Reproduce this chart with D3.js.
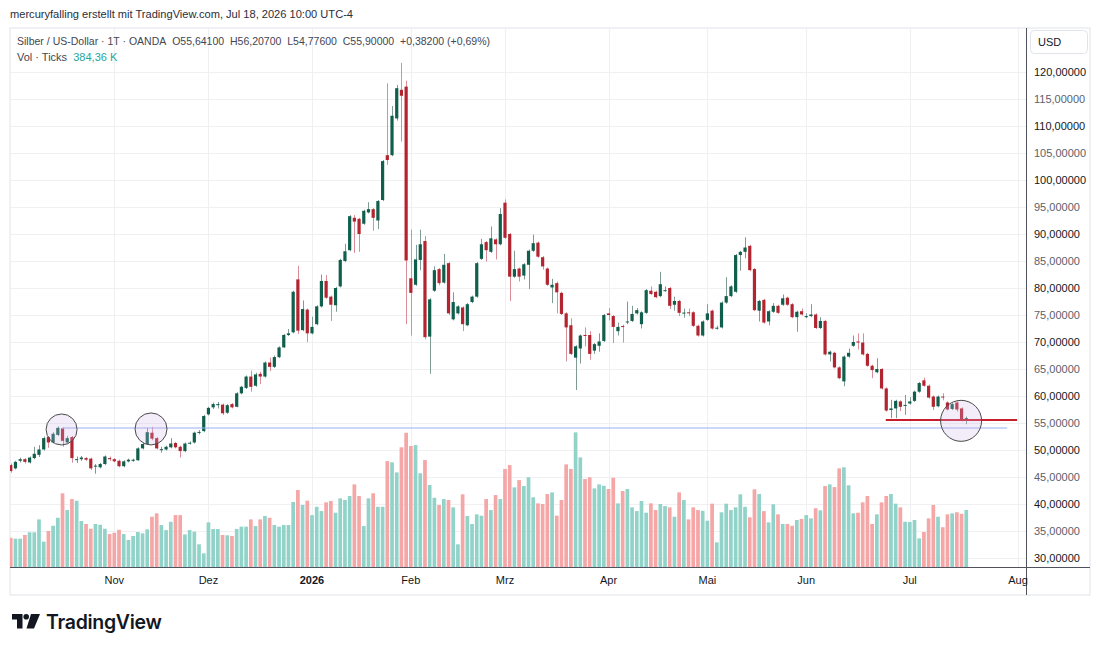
<!DOCTYPE html>
<html><head><meta charset="utf-8">
<script src="https://cdn.jsdelivr.net/npm/d3@7"></script>
<style>body{margin:0;background:#fff;} svg{display:block;font-family:"Liberation Sans",Arial,sans-serif;}</style>
</head><body><svg id="c" width="1100" height="651"></svg>
<script>
// ---- Data (daily bars, index 0 = early Oct 2025, last = Jul 17 2026) ----
const monthLabels = ["Nov","Dez","2026","Feb","Mrz","Apr","Mai","Jun","Jul","Aug"];
const monthIndex  = [22, 42, 64, 85, 105, 127, 148, 169, 191, 214];
const priceTicks = [30,35,40,45,50,55,60,65,70,75,80,85,90,95,100,105,110,115,120];

const open = [47.2,46.6,48.0,48.3,47.7,48.5,49.1,50.1,52.4,51.4,
52.8,54.0,51.4,52.4,48.25,48.3,48.5,48.4,47.0,46.8,
47.4,48.5,48.3,48.0,47.0,47.9,48.0,48.1,50.3,51.1,
53.2,52.2,50.1,50.1,50.5,51.3,50.6,49.8,51.2,51.4,
53.2,53.5,56.6,57.9,58.3,58.4,56.9,58.5,58.0,60.5,
61.5,63.6,61.9,64.1,63.6,66.2,65.4,67.2,69.0,71.3,
71.8,81.6,72.2,76.0,71.6,73.3,76.6,81.3,78.4,76.8,
80.3,85.0,87.0,93.0,92.8,91.9,94.0,94.6,92.5,96.3,
104.6,104.6,111.4,116.7,117.3,81.8,80.6,85.2,88.7,71.0,
79.5,83.5,81.0,84.6,74.2,75.3,76.4,73.1,77.4,78.4,
85.4,88.5,86.7,89.0,88.1,95.8,90.0,82.1,83.6,82.3,
84.3,86.9,88.4,85.7,83.6,80.1,80.9,79.1,75.3,73.1,
67.1,68.8,71.3,71.3,68.4,69.3,70.2,75.3,74.8,72.0,
72.95,73.7,73.9,75.3,73.3,75.4,79.5,79.3,78.5,79.5,
80.0,76.9,77.6,75.4,75.5,75.5,73.0,71.2,74.1,75.8,
72.6,72.7,77.3,78.5,79.3,86.1,86.7,87.8,83.5,75.8,
77.8,73.8,75.6,76.7,76.9,78.2,77.0,74.6,75.7,74.6,
74.8,75.1,72.6,73.9,67.7,68.0,65.3,62.7,67.3,69.3,
70.1,69.9,67.8,65.6,64.4,65.0,61.4,57.4,57.7,59.0,
58.3,58.6,59.1,60.8,62.9,61.9,59.9,58.1,59.9,58.8,
57.6,58.8,57.7,55.641];
const high = [47.5,48.0,48.6,48.5,48.8,50.6,50.9,52.5,52.6,53.3,
54.4,54.2,52.6,52.6,48.8,48.9,48.7,48.6,47.4,47.6,
49.0,48.8,48.5,48.2,48.1,48.4,48.4,50.5,51.3,54.1,
54.3,52.4,50.6,50.8,52.2,51.5,50.8,51.4,51.6,53.4,
53.7,56.5,58.0,58.8,58.9,58.6,58.5,58.7,60.7,61.9,
63.8,64.7,64.3,64.5,66.4,67.1,67.5,69.2,71.5,72.4,
79.5,84.1,77.7,76.2,74.7,76.8,82.5,82.4,78.6,80.2,
85.4,88.2,93.5,93.5,93.0,94.5,95.9,94.8,96.3,103.7,
117.9,113.7,117.6,121.7,118.4,90.8,88.0,90.8,89.6,78.1,
84.0,83.7,86.3,84.8,79.2,76.8,76.6,77.2,78.6,84.8,
89.1,88.7,91.4,89.2,94.8,96.4,90.2,86.9,83.8,84.6,
87.1,89.9,88.6,85.9,83.8,81.7,81.2,79.3,75.5,74.4,
69.4,71.4,72.7,72.0,69.8,71.6,75.2,76.3,75.0,73.6,
73.2,77.5,76.7,76.3,75.7,79.8,80.3,79.5,83.0,80.3,
80.2,78.4,77.8,76.2,76.2,75.7,73.2,74.0,77.0,76.0,
73.0,77.5,82.0,80.5,86.3,86.9,89.4,88.0,83.7,77.8,
78.0,75.9,77.2,76.9,78.8,78.4,77.2,75.8,76.2,75.3,
77.0,75.3,74.6,74.1,68.4,68.2,65.5,67.5,68.8,71.2,
71.6,71.6,68.0,65.8,67.0,65.2,61.6,59.3,59.3,59.2,
60.2,59.8,61.0,62.6,63.4,62.1,60.1,60.1,60.5,59.0,
58.7,59.0,57.9,56.207];
const low = [45.8,46.4,47.7,47.5,47.5,48.3,48.7,49.9,50.4,51.2,
52.6,50.6,51.2,47.65,47.6,48.0,48.0,46.3,45.6,46.6,
47.2,48.0,47.7,46.8,46.8,47.7,47.8,48.0,50.1,51.0,
51.8,50.1,49.5,49.9,50.3,50.3,48.6,49.6,51.0,51.2,
52.9,53.3,56.4,57.6,57.7,56.5,56.7,57.7,57.9,60.3,
61.3,60.8,61.7,62.2,63.4,64.6,65.2,67.0,68.9,71.1,
71.6,71.5,72.0,70.0,71.4,73.1,76.4,78.0,73.9,75.6,
80.1,84.8,86.8,86.5,86.7,91.7,93.8,90.6,90.9,96.1,
102.8,104.4,111.0,107.1,73.3,71.2,80.4,83.3,70.5,64.1,
79.3,80.5,80.8,75.0,74.0,75.1,72.0,72.9,77.2,78.2,
85.2,84.9,86.5,85.3,87.9,89.1,77.6,81.9,81.2,81.6,
79.8,86.7,85.6,83.4,80.4,77.2,75.3,75.0,66.4,67.6,
61.1,66.0,69.2,66.7,67.8,68.2,70.0,74.0,69.8,71.2,
69.9,73.3,73.7,75.1,72.5,75.2,78.7,78.1,78.3,79.3,
76.1,75.8,74.8,74.5,74.8,72.8,71.0,71.0,73.9,72.3,
72.3,72.5,77.1,78.3,79.1,83.2,85.5,83.1,75.7,73.8,
73.4,73.1,75.4,75.2,76.7,76.7,74.4,71.9,74.9,74.4,
74.6,72.4,72.4,67.5,66.4,65.1,63.1,61.8,67.1,69.1,
68.6,67.5,65.4,63.3,64.2,61.2,57.1,55.9,55.9,57.2,
56.5,58.4,58.9,60.6,61.7,59.5,57.4,57.9,59.2,57.3,
57.4,57.1,55.3,54.776];
const close = [46.1,47.8,48.3,47.8,48.6,49.3,50.1,52.2,51.4,53.0,
54.1,51.7,52.2,48.5,48.3,48.6,48.2,46.6,47.1,47.4,
48.8,48.3,47.9,47.0,47.9,48.2,48.2,50.3,51.1,53.3,
52.1,50.3,50.15,50.6,51.2,50.5,49.8,51.2,51.35,53.2,
53.35,56.3,57.8,58.5,58.5,56.8,58.3,57.9,60.5,61.7,
63.6,61.7,64.0,63.6,66.2,65.4,67.2,69.0,71.3,71.6,
79.3,72.1,76.1,71.6,72.8,76.6,81.3,78.2,76.9,80.0,
85.2,86.8,93.3,92.3,90.0,94.3,94.6,93.0,96.1,103.5,
103.7,111.9,117.0,115.6,85.1,79.1,85.3,88.1,70.9,77.9,
83.3,80.9,84.3,75.3,77.4,76.6,73.3,77.0,78.4,84.6,
88.1,87.0,89.2,88.1,93.7,89.3,82.1,83.5,82.1,84.4,
86.9,88.3,85.8,84.0,80.6,80.6,79.2,75.2,72.7,67.8,
69.2,71.2,71.2,67.8,69.6,70.1,75.0,75.0,72.8,72.8,
72.8,73.8,75.2,75.9,75.5,79.6,78.9,78.3,80.7,79.6,
76.7,77.6,75.4,75.45,75.4,73.0,71.2,73.8,75.3,72.5,
72.65,77.3,78.5,80.3,86.1,86.7,87.5,83.3,75.9,77.6,
73.6,75.7,76.7,75.4,78.1,76.9,74.6,75.6,75.1,74.8,
75.1,72.6,73.9,67.7,68.2,65.3,63.3,67.3,68.0,70.0,
69.9,67.7,65.6,64.8,65.0,61.4,57.3,57.7,59.1,58.0,
58.35,59.0,60.8,62.4,61.9,59.7,58.0,59.9,59.8,57.5,
58.5,57.5,55.518,55.9];
const volume = [197,191,191,216,234,234,321,171,243,278,
332,497,384,458,447,310,290,258,290,285,
258,222,231,251,222,182,209,236,227,254,
339,362,283,249,305,350,350,220,249,238,
153,92,301,256,256,216,214,209,256,272,
272,321,276,321,344,332,283,272,283,283,
438,519,418,447,350,406,377,436,445,366,
463,452,479,557,479,276,463,497,406,406,
714,706,638,807,905,816,822,632,721,553,
467,418,458,452,402,153,490,344,290,355,
346,458,384,485,458,661,687,537,586,546,
605,470,429,425,492,503,346,452,692,661,
908,739,593,605,530,557,548,526,602,429,
512,526,402,377,445,366,429,384,425,411,
402,339,503,452,321,402,384,379,312,427,
166,369,427,384,402,490,406,335,524,492,
377,301,423,355,290,290,278,317,324,350,
328,396,382,546,557,539,665,672,551,362,
366,436,479,290,355,436,479,492,427,402,
305,303,317,193,236,328,418,339,268,355,
362,369,359,384.36];

// annotations: horizontal levels [price, fromIndex, toIndex], circles [index, price]
const blueLevel = [54.07, 10.9, 211.7];
const redLevel  = [55.56, 185.9, 213.8];
const circleIdx   = [10.8, 29.8, 201.9];
const circlePrice = [53.8, 53.9, 55.4];
const circleR     = [15.5, 16, 20.5];

// ---- Layout ----
const svg = d3.select("#c");
const L = 10, R = 1026, T = 28, B = 567;
const xs = d3.scaleLinear().domain([0, 214]).range([10.75, 10.75 + 214 * 4.707]);
const ys = d3.scaleLinear().domain([30, 120]).range([558, 72]);
const vs = d3.scaleLinear().domain([0, 384.36]).range([B, 510]);
const fmt = v => d3.format(".5f")(v).replace(".", ",");

// header
svg.append("text").attr("x", 10).attr("y", 18).attr("font-size", 11.2).attr("fill", "#2a2e39")
  .attr("textLength", 343).attr("lengthAdjust", "spacingAndGlyphs")
  .text("mercuryfalling erstellt mit TradingView.com, Jul 18, 2026 10:00 UTC-4");

// frame
svg.append("rect").attr("x", L).attr("y", T).attr("width", 1090 - L).attr("height", 595 - T)
  .attr("fill", "none").attr("stroke", "#e0e3eb");

// grid
const g = svg.append("g");
g.selectAll("line.h").data(priceTicks).join("line")
  .attr("x1", L).attr("x2", R).attr("y1", d => ys(d) + 0.5).attr("y2", d => ys(d) + 0.5)
  .attr("stroke", "#f0f0f3");
g.selectAll("line.v").data(monthIndex).join("line")
  .attr("x1", d => Math.round(xs(d)) + 0.5).attr("x2", d => Math.round(xs(d)) + 0.5)
  .attr("y1", T).attr("y2", B).attr("stroke", "#f0f0f3");

svg.append("clipPath").attr("id", "clip").append("rect")
  .attr("x", L).attr("y", T).attr("width", R - L).attr("height", B - T);
const plot = svg.append("g").attr("clip-path", "url(#clip)");

const idx = d3.range(open.length);
const up = i => close[i] >= open[i];

// volume
plot.selectAll("rect.vol").data(idx).join("rect")
  .attr("x", i => xs(i) - 1.85).attr("width", 3.7)
  .attr("y", i => vs(volume[i])).attr("height", i => B - vs(volume[i]))
  .attr("fill", i => up(i) ? "#92d3c9" : "#f5a6a6");

// wicks
plot.selectAll("line.wick").data(idx).join("line")
  .attr("x1", i => Math.round(xs(i)) + 0.5).attr("x2", i => Math.round(xs(i)) + 0.5)
  .attr("y1", i => ys(high[i])).attr("y2", i => ys(low[i]))
  .attr("stroke", i => up(i) ? "#7f9c94" : "#d98e98").attr("stroke-width", 1);

// bodies
plot.selectAll("rect.body").data(idx).join("rect")
  .attr("x", i => xs(i) - 1.6).attr("width", 3.2)
  .attr("y", i => ys(Math.max(open[i], close[i])))
  .attr("height", i => Math.max(1, Math.abs(ys(open[i]) - ys(close[i]))))
  .attr("fill", i => up(i) ? "#0f5f4c" : "#b2242f");

// annotations
plot.append("line").attr("x1", xs(blueLevel[1])).attr("x2", xs(blueLevel[2]))
  .attr("y1", ys(blueLevel[0])).attr("y2", ys(blueLevel[0]))
  .attr("stroke", "#9aaef2").attr("stroke-width", 1.2);
plot.append("line").attr("x1", xs(redLevel[1])).attr("x2", xs(redLevel[2]))
  .attr("y1", ys(redLevel[0])).attr("y2", ys(redLevel[0]))
  .attr("stroke", "#c81e2c").attr("stroke-width", 2);
plot.selectAll("circle.ann").data(d3.range(circleIdx.length)).join("circle")
  .attr("cx", k => xs(circleIdx[k])).attr("cy", k => ys(circlePrice[k])).attr("r", k => circleR[k])
  .attr("fill", "rgba(206,180,232,0.25)").attr("stroke", "#4a4a4a").attr("stroke-width", 1);

// axes lines
svg.append("line").attr("x1", R + 0.5).attr("x2", R + 0.5).attr("y1", T).attr("y2", 595).attr("stroke", "#50535e");
svg.append("line").attr("x1", L).attr("x2", 1090).attr("y1", B + 0.5).attr("y2", B + 0.5).attr("stroke", "#50535e");

// price axis labels
svg.selectAll("text.p").data(priceTicks).join("text")
  .attr("x", 1034).attr("y", d => ys(d) + 4).attr("font-size", 11)
  .attr("fill", d => d % 10 === 0 ? "#131722" : "#5d606b")
  .text(d => fmt(d));

// USD box
svg.append("rect").attr("x", 1030.5).attr("y", 30.5).attr("width", 57).attr("height", 23).attr("rx", 4)
  .attr("fill", "#fff").attr("stroke", "#e0e3eb");
svg.append("text").attr("x", 1038).attr("y", 46).attr("font-size", 11).attr("fill", "#131722").text("USD");

// time axis labels
svg.selectAll("text.t").data(monthIndex).join("text")
  .attr("x", d => xs(d)).attr("y", 584).attr("text-anchor", "middle").attr("font-size", 11)
  .attr("font-weight", (d, k) => monthLabels[k] === "2026" ? "bold" : "normal")
  .attr("fill", "#131722").text((d, k) => monthLabels[k]);

// legend
const last = open.length - 1;
const chg = close[last] - close[last - 1];
const legText = "Silber / US-Dollar \u00b7 1T \u00b7 OANDA\u00a0\u00a0O" + fmt(open[last]) + "\u00a0\u00a0H" + fmt(high[last]) +
  "\u00a0\u00a0L" + fmt(low[last]) + "\u00a0\u00a0C" + fmt(close[last]) +
  "\u00a0\u00a0+" + fmt(chg) + " (+" + (chg / close[last - 1] * 100).toFixed(2).replace(".", ",") + "%)";
svg.append("text").attr("x", 17).attr("y", 45).attr("font-size", 11).attr("fill", "#434651")
  .attr("textLength", 473).attr("lengthAdjust", "spacingAndGlyphs").text(legText);
const vl = svg.append("text").attr("x", 17).attr("y", 61).attr("font-size", 11).attr("fill", "#434651");
vl.append("tspan").text("Vol \u00b7 Ticks\u00a0\u00a0");
vl.append("tspan").attr("fill", "#26a69a").text(volume[last].toFixed(2).replace(".", ",") + " K");

// TradingView logo
const lg = svg.append("g").attr("fill", "#131722");
lg.append("path").attr("d", "M12,614 H22.5 V628.5 H17 V619.5 H12 Z");
lg.append("circle").attr("cx", 26.2).attr("cy", 616.8).attr("r", 2.8);
lg.append("path").attr("d", "M31,614 H40 L34,628.5 H26.5 Z");
svg.append("text").attr("x", 46).attr("y", 629).attr("font-family", "Inter, sans-serif")
  .attr("font-size", 19.5).attr("font-weight", 600).attr("letter-spacing", -0.3)
  .attr("fill", "#131722").text("TradingView");
</script></body></html>
